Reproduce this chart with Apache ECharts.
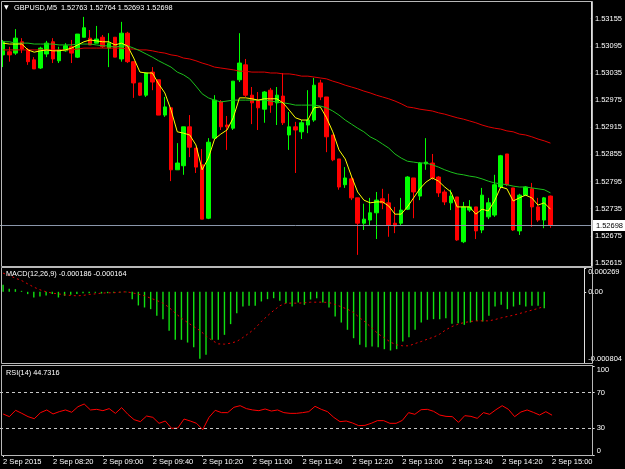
<!DOCTYPE html>
<html>
<head>
<meta charset="utf-8">
<script src="https://cdn.jsdelivr.net/npm/echarts@6/dist/echarts.min.js"></script>
<style>
  html, body { margin: 0; padding: 0; background: #000; }
  #chart { width: 625px; height: 469px; }
</style>
</head>
<body>
<div id="chart"></div>
<script>
// GBPUSD M5, 2 Sep 2015, 07:40 .. 15:00
const times = [
  '07:40', '07:45', '07:50', '07:55',
  '08:00', '08:05', '08:10', '08:15', '08:20', '08:25', '08:30', '08:35', '08:40', '08:45', '08:50', '08:55',
  '09:00', '09:05', '09:10', '09:15', '09:20', '09:25', '09:30', '09:35', '09:40', '09:45', '09:50', '09:55',
  '10:00', '10:05', '10:10', '10:15', '10:20', '10:25', '10:30', '10:35', '10:40', '10:45', '10:50', '10:55',
  '11:00', '11:05', '11:10', '11:15', '11:20', '11:25', '11:30', '11:35', '11:40', '11:45', '11:50', '11:55',
  '12:00', '12:05', '12:10', '12:15', '12:20', '12:25', '12:30', '12:35', '12:40', '12:45', '12:50', '12:55',
  '13:00', '13:05', '13:10', '13:15', '13:20', '13:25', '13:30', '13:35', '13:40', '13:45', '13:50', '13:55',
  '14:00', '14:05', '14:10', '14:15', '14:20', '14:25', '14:30', '14:35', '14:40', '14:45', '14:50', '14:55',
  '15:00'
];
// empty slots on the right side of the chart (shift)
const shiftSlots = ['', '', '', '', '', ''];

const tickLabels = [
  '2 Sep 2015', '2 Sep 08:20', '2 Sep 09:00', '2 Sep 09:40', '2 Sep 10:20', '2 Sep 11:00',
  '2 Sep 11:40', '2 Sep 12:20', '2 Sep 13:00', '2 Sep 13:40', '2 Sep 14:20', '2 Sep 15:00'
];

const priceTicks = [1.52615, 1.52675, 1.52735, 1.52795, 1.52855, 1.52915, 1.52975, 1.53035, 1.53095, 1.53155];
const macdTicks = [-0.000804, 0, 0.000269];
const rsiTicks = [0, 30, 70, 100];

// [open, close, low, high]
const candles = [
  [1.53075, 1.53104, 1.53048, 1.53108], [1.53082, 1.53075, 1.53060, 1.53093], [1.53079, 1.53112, 1.53075, 1.53132],
  [1.53104, 1.53088, 1.53079, 1.53112], [1.53086, 1.53060, 1.53053, 1.53090], [1.53064, 1.53044, 1.53044, 1.53070],
  [1.53046, 1.53090, 1.53044, 1.53093], [1.53077, 1.53101, 1.53070, 1.53106], [1.53104, 1.53066, 1.53057, 1.53112],
  [1.53062, 1.53086, 1.53057, 1.53093], [1.53084, 1.53095, 1.53082, 1.53101], [1.53093, 1.53079, 1.53057, 1.53108],
  [1.53070, 1.53121, 1.53068, 1.53121], [1.53114, 1.53135, 1.53114, 1.53159], [1.53112, 1.53097, 1.53097, 1.53130],
  [1.53101, 1.53110, 1.53101, 1.53139], [1.53114, 1.53093, 1.53090, 1.53119], [1.53090, 1.53101, 1.53048, 1.53123],
  [1.53114, 1.53070, 1.53070, 1.53114], [1.53066, 1.53123, 1.53060, 1.53148], [1.53123, 1.53060, 1.53057, 1.53126],
  [1.53060, 1.53013, 1.52980, 1.53060], [1.53013, 1.52986, 1.52984, 1.53013], [1.52986, 1.53035, 1.52982, 1.53035],
  [1.53037, 1.53015, 1.52997, 1.53048], [1.53020, 1.52942, 1.52942, 1.53020], [1.52942, 1.52960, 1.52938, 1.52982],
  [1.52958, 1.52821, 1.52796, 1.52958], [1.52821, 1.52836, 1.52821, 1.52880], [1.52830, 1.52916, 1.52810, 1.52916],
  [1.52916, 1.52871, 1.52849, 1.52942], [1.52869, 1.52827, 1.52814, 1.52869], [1.52832, 1.52712, 1.52712, 1.52867],
  [1.52714, 1.52882, 1.52712, 1.52891], [1.52891, 1.52975, 1.52887, 1.52986], [1.52971, 1.52916, 1.52909, 1.52975],
  [1.52920, 1.52916, 1.52865, 1.52940], [1.52913, 1.53017, 1.52909, 1.53017], [1.53020, 1.53057, 1.53015, 1.53123],
  [1.53053, 1.52986, 1.52982, 1.53066], [1.52986, 1.52969, 1.52922, 1.53004], [1.52975, 1.52958, 1.52909, 1.52993],
  [1.52955, 1.52993, 1.52925, 1.52995], [1.52997, 1.52964, 1.52947, 1.53002], [1.52969, 1.52986, 1.52920, 1.53004],
  [1.52984, 1.52925, 1.52920, 1.53035], [1.52898, 1.52916, 1.52865, 1.52949], [1.52916, 1.52909, 1.52814, 1.52927],
  [1.52905, 1.52925, 1.52889, 1.52931], [1.52920, 1.52931, 1.52902, 1.52997], [1.52931, 1.53008, 1.52927, 1.53024],
  [1.53013, 1.52982, 1.52975, 1.53020], [1.52982, 1.52894, 1.52860, 1.52982], [1.52898, 1.52843, 1.52840, 1.52898],
  [1.52845, 1.52783, 1.52777, 1.52845], [1.52788, 1.52803, 1.52781, 1.52827], [1.52801, 1.52759, 1.52754, 1.52807],
  [1.52759, 1.52703, 1.52633, 1.52759], [1.52703, 1.52712, 1.52688, 1.52746], [1.52710, 1.52726, 1.52699, 1.52759],
  [1.52726, 1.52754, 1.52668, 1.52772], [1.52757, 1.52748, 1.52734, 1.52779], [1.52748, 1.52699, 1.52673, 1.52768],
  [1.52703, 1.52697, 1.52681, 1.52739], [1.52703, 1.52732, 1.52697, 1.52759], [1.52734, 1.52805, 1.52732, 1.52807],
  [1.52803, 1.52772, 1.52714, 1.52803], [1.52763, 1.52836, 1.52754, 1.52838], [1.52834, 1.52838, 1.52821, 1.52891],
  [1.52836, 1.52803, 1.52799, 1.52856], [1.52805, 1.52770, 1.52761, 1.52807], [1.52772, 1.52750, 1.52743, 1.52777],
  [1.52748, 1.52763, 1.52732, 1.52777], [1.52761, 1.52666, 1.52664, 1.52761], [1.52662, 1.52739, 1.52659, 1.52750],
  [1.52732, 1.52739, 1.52728, 1.52754], [1.52739, 1.52686, 1.52668, 1.52739], [1.52688, 1.52765, 1.52681, 1.52781],
  [1.52717, 1.52748, 1.52712, 1.52759], [1.52721, 1.52788, 1.52717, 1.52810], [1.52783, 1.52852, 1.52781, 1.52854],
  [1.52856, 1.52788, 1.52785, 1.52856], [1.52781, 1.52688, 1.52686, 1.52781], [1.52686, 1.52765, 1.52677, 1.52768],
  [1.52765, 1.52783, 1.52763, 1.52785], [1.52779, 1.52739, 1.52695, 1.52792], [1.52739, 1.52710, 1.52706, 1.52759],
  [1.52710, 1.52759, 1.52692, 1.52761], [1.52763, 1.52698, 1.52693, 1.52764]
];

// moving averages
const maFast = [
  1.53101, 1.53099, 1.53099, 1.53099, 1.53086, 1.53081, 1.53084, 1.53086, 1.53084, 1.53084,
  1.53086, 1.53090, 1.53097, 1.53104, 1.53108, 1.53106, 1.53104, 1.53104, 1.53097, 1.53101,
  1.53095, 1.53068, 1.53037, 1.53035, 1.53035, 1.53011, 1.52991, 1.52953, 1.52905, 1.52902,
  1.52898, 1.52876, 1.52821, 1.52847, 1.52889, 1.52900, 1.52909, 1.52936, 1.52980, 1.52980,
  1.52978, 1.52975, 1.52978, 1.52978, 1.52978, 1.52969, 1.52953, 1.52936, 1.52931, 1.52931,
  1.52958, 1.52960, 1.52936, 1.52905, 1.52865, 1.52845, 1.52807, 1.52772, 1.52754, 1.52748,
  1.52750, 1.52750, 1.52741, 1.52723, 1.52723, 1.52739, 1.52759, 1.52779, 1.52794, 1.52803,
  1.52796, 1.52783, 1.52772, 1.52739, 1.52739, 1.52739, 1.52723, 1.52734, 1.52730, 1.52752,
  1.52783, 1.52779, 1.52752, 1.52759, 1.52765, 1.52759, 1.52743, 1.52748, 1.52734
];
const maMid = [
  1.53104, 1.53104, 1.53101, 1.53101, 1.53101, 1.53099, 1.53099, 1.53099, 1.53099, 1.53097,
  1.53097, 1.53097, 1.53099, 1.53099, 1.53099, 1.53097, 1.53095, 1.53095, 1.53092, 1.53095,
  1.53095, 1.53090, 1.53084, 1.53077, 1.53070, 1.53062, 1.53055, 1.53048, 1.53037, 1.53031,
  1.53022, 1.53006, 1.52989, 1.52980, 1.52975, 1.52971, 1.52973, 1.52975, 1.52975, 1.52975,
  1.52975, 1.52975, 1.52975, 1.52973, 1.52971, 1.52969, 1.52967, 1.52964, 1.52964, 1.52964,
  1.52964, 1.52962, 1.52958, 1.52951, 1.52942, 1.52931, 1.52922, 1.52913, 1.52905, 1.52894,
  1.52887, 1.52878, 1.52869, 1.52856, 1.52847, 1.52840, 1.52838, 1.52836, 1.52836, 1.52832,
  1.52827, 1.52821, 1.52816, 1.52812, 1.52810, 1.52807, 1.52805, 1.52801, 1.52796, 1.52792,
  1.52790, 1.52788, 1.52785, 1.52783, 1.52783, 1.52781, 1.52779, 1.52777, 1.52770
];
const maSlow = [
  1.53086, 1.53086, 1.53086, 1.53086, 1.53086, 1.53086, 1.53086, 1.53086, 1.53086, 1.53086,
  1.53086, 1.53086, 1.53088, 1.53090, 1.53090, 1.53090, 1.53090, 1.53090, 1.53090, 1.53090,
  1.53088, 1.53088, 1.53086, 1.53086, 1.53084, 1.53081, 1.53079, 1.53075, 1.53073, 1.53068,
  1.53066, 1.53062, 1.53057, 1.53053, 1.53048, 1.53046, 1.53044, 1.53042, 1.53039, 1.53039,
  1.53037, 1.53037, 1.53037, 1.53035, 1.53035, 1.53033, 1.53033, 1.53031, 1.53028, 1.53028,
  1.53026, 1.53024, 1.53022, 1.53017, 1.53013, 1.53008, 1.53004, 1.53000, 1.52995, 1.52991,
  1.52986, 1.52982, 1.52978, 1.52973, 1.52967, 1.52960, 1.52958, 1.52955, 1.52953, 1.52951,
  1.52947, 1.52944, 1.52940, 1.52936, 1.52933, 1.52929, 1.52925, 1.52920, 1.52916, 1.52913,
  1.52911, 1.52907, 1.52905, 1.52900, 1.52898, 1.52894, 1.52889, 1.52885, 1.52880
];

// MACD(12,26,9): main as histogram, signal as dotted line
const macdMain = [
  0.000079, 0.000034, 0.000030, 0.000011, -0.000026, -0.000064, -0.000053, -0.000041, -0.000026, -0.000064,
  -0.000045, -0.000034, -0.000026, -0.000015, -0.000015, -0.000011, -0.000019, -0.000015, -0.000011, -0.000008,
  -0.000004, -0.000083, -0.000154, -0.000177, -0.000196, -0.000271, -0.000309, -0.000441, -0.000542, -0.000542,
  -0.000573, -0.000625, -0.000757, -0.000712, -0.000542, -0.000542, -0.000486, -0.000365, -0.000241, -0.000166,
  -0.000158, -0.000158, -0.000109, -0.000083, -0.000072, -0.000102, -0.000128, -0.000166, -0.000121, -0.000147,
  -0.000087, -0.000072, -0.000121, -0.000177, -0.000279, -0.000347, -0.000429, -0.000524, -0.000599, -0.000625,
  -0.000618, -0.000625, -0.000648, -0.000663, -0.000648, -0.000561, -0.000512, -0.000429, -0.000347, -0.000316,
  -0.000309, -0.000309, -0.000298, -0.000362, -0.000354, -0.000373, -0.000347, -0.000328, -0.000335, -0.000271,
  -0.000166, -0.000147, -0.000196, -0.000166, -0.000147, -0.000166, -0.000158, -0.000158, -0.000186
];
const macdSignal = [
  0.000211, 0.000185, 0.000154, 0.000128, 0.000090, 0.000053, 0.000023, 0.000000, -0.000015, -0.000023,
  -0.000034, -0.000041, -0.000045, -0.000041, -0.000030, -0.000023, -0.000015, -0.000011, -0.000011, -0.000004,
  0.000000, -0.000011, -0.000026, -0.000045, -0.000072, -0.000098, -0.000128, -0.000177, -0.000241, -0.000298,
  -0.000347, -0.000392, -0.000437, -0.000497, -0.000550, -0.000588, -0.000591, -0.000580, -0.000561, -0.000516,
  -0.000467, -0.000411, -0.000335, -0.000271, -0.000211, -0.000158, -0.000128, -0.000128, -0.000128, -0.000124,
  -0.000117, -0.000117, -0.000117, -0.000121, -0.000143, -0.000170, -0.000196, -0.000234, -0.000294, -0.000347,
  -0.000411, -0.000475, -0.000520, -0.000569, -0.000599, -0.000610, -0.000610, -0.000584, -0.000561, -0.000535,
  -0.000512, -0.000478, -0.000429, -0.000392, -0.000365, -0.000347, -0.000335, -0.000328, -0.000328, -0.000328,
  -0.000313, -0.000294, -0.000279, -0.000264, -0.000245, -0.000226, -0.000207, -0.000188, -0.000164
];

// RSI(14)
const rsi = [
  46.1, 43.1, 50.2, 46.8, 43.1, 40.8, 47.6, 50.6, 46.1, 48.7,
  50.6, 48.0, 54.3, 57.3, 50.6, 51.3, 49.8, 52.1, 46.8, 53.2,
  45.7, 39.7, 37.5, 43.8, 42.3, 35.6, 38.2, 30.0, 30.3, 40.4,
  38.2, 35.6, 28.5, 42.3, 50.2, 47.6, 47.6, 53.6, 55.4, 52.1,
  50.6, 49.8, 51.7, 49.4, 50.6, 47.6, 46.8, 46.8, 47.6, 48.7,
  54.7, 51.3, 48.7, 42.3, 37.5, 38.2, 36.0, 33.0, 33.3, 35.6,
  38.6, 38.6, 35.6, 35.6, 38.9, 47.6, 45.7, 50.9, 51.3, 49.1,
  44.9, 43.4, 43.1, 36.7, 44.2, 43.4, 41.2, 47.6, 45.7, 50.9,
  55.4, 51.3, 43.1, 48.3, 50.6, 47.9, 44.9, 48.7, 44.7316
];

const categories = times.concat(shiftSlots);
const last = candles[candles.length - 1];
const lastClose = last[1];

const font = 'Liberation Sans';
const textColor = '#ffffff';
const frameColor = '#b8b8b8';

const chart = echarts.init(document.getElementById('chart'));

const titleStyle = { color: textColor, fontSize: 7.3, fontWeight: 'normal', fontFamily: font };

const rightAxis = (gridIndex, min, max, ticks, formatter, alignEnds) => ({
  type: 'value',
  gridIndex: gridIndex,
  position: 'right',
  min: min,
  max: max,
  axisLine: { show: true, lineStyle: { color: '#e0e0e0', width: 1 } },
  axisTick: { show: true, length: 2, customValues: ticks, lineStyle: { color: '#e0e0e0' } },
  axisLabel: Object.assign({
    color: textColor,
    fontSize: 7.5,
    fontFamily: font,
    margin: 4,
    customValues: ticks,
    formatter: formatter,
  }, alignEnds ? { verticalAlignMinLabel: 'bottom', verticalAlignMaxLabel: 'top' } : {}),
  splitLine: { show: false },
});

const hiddenX = (gridIndex) => ({
  type: 'category',
  gridIndex: gridIndex,
  data: categories,
  boundaryGap: true,
  show: false,
});

const option = {
  backgroundColor: '#000000',
  animation: false,
  title: [
    { text: '▼', left: 4, top: 4, padding: 0,
      textStyle: { color: textColor, fontSize: 6, fontWeight: 'normal', fontFamily: 'DejaVu Sans' } },
    { text: 'GBPUSD,M5  ' + [last[0], last[3], last[2], last[1]].map((v) => v.toFixed(5)).join(' '),
      left: 14, top: 4, padding: 0, textStyle: titleStyle },
    { text: 'MACD(12,26,9) ' + macdMain[macdMain.length - 1].toFixed(6) + ' ' + macdSignal[macdSignal.length - 1].toFixed(6),
      left: 6, top: 270, padding: 0, textStyle: titleStyle },
    { text: 'RSI(14) ' + rsi[rsi.length - 1].toFixed(4),
      left: 6, top: 369, padding: 0, textStyle: titleStyle },
  ],
  grid: [
    { left: -1.125, width: 593.75, top: 2, height: 264 },
    { left: -1.125, width: 593.75, top: 268, height: 95 },
    { left: -1.125, width: 593.75, top: 366, height: 89 },
  ],
  xAxis: [
    hiddenX(0),
    hiddenX(1),
    {
      type: 'category',
      gridIndex: 2,
      data: categories,
      boundaryGap: true,
      axisLine: { show: false },
      axisTick: { show: true, interval: 7, alignWithLabel: true, length: 2, lineStyle: { color: '#e0e0e0' } },
      axisLabel: {
        interval: 7,
        align: 'left',
        margin: 3,
        color: textColor,
        fontSize: 7.5,
        fontFamily: font,
        formatter: (value, index) => (index % 8 === 0 && tickLabels[index / 8]) ? tickLabels[index / 8] : '',
      },
    },
  ],
  yAxis: [
    rightAxis(0, 1.526084, 1.531919, priceTicks, (v) => v.toFixed(5), false),
    rightAxis(1, -0.000804, 0.000269, macdTicks, (v) => (v === 0 ? '0.00' : v.toFixed(6)), true),
    rightAxis(2, 0, 100, rsiTicks, (v) => String(v), true),
  ],
  series: [
    {
      type: 'candlestick',
      xAxisIndex: 0,
      yAxisIndex: 0,
      data: candles,
      barWidth: 4,
      itemStyle: {
        color: '#00ff00',
        color0: '#ff0000',
        borderColor: '#00ff00',
        borderColor0: '#ff0000',
        borderWidth: 1,
      },
    },
    {
      type: 'line', xAxisIndex: 0, yAxisIndex: 0, data: maSlow, symbol: 'none',
      lineStyle: { color: '#e00000', width: 1 },
      // current bid line with its price tag on the axis
      markLine: {
        silent: true,
        precision: 5,
        symbol: ['none', 'none'],
        lineStyle: { color: '#8a96aa', width: 1, type: 'solid' },
        label: {
          show: true,
          position: 'end',
          distance: 1,
          formatter: lastClose.toFixed(5),
          color: '#000',
          backgroundColor: '#ffffff',
          padding: [2, 4, 1, 4],
          fontSize: 7.5,
          fontFamily: font,
        },
        data: [{ yAxis: lastClose }],
      },
    },
    {
      type: 'line', xAxisIndex: 0, yAxisIndex: 0, data: maMid, symbol: 'none',
      lineStyle: { color: '#1cc01c', width: 1 },
    },
    {
      type: 'line', xAxisIndex: 0, yAxisIndex: 0, data: maFast, symbol: 'none',
      lineStyle: { color: '#ffff00', width: 1 },
    },
    {
      type: 'bar', xAxisIndex: 1, yAxisIndex: 1, data: macdMain, barWidth: 1.4,
      itemStyle: { color: '#10e010' },
    },
    {
      type: 'line', xAxisIndex: 1, yAxisIndex: 1, data: macdSignal, symbol: 'none',
      lineStyle: { color: '#e00000', width: 1, type: [2, 3] },
    },
    {
      type: 'line', xAxisIndex: 2, yAxisIndex: 2, data: rsi, symbol: 'none',
      lineStyle: { color: '#ff0000', width: 1 },
      markLine: {
        silent: true,
        symbol: ['none', 'none'],
        label: { show: false },
        lineStyle: { color: '#c8c8c8', width: 1, type: [3, 3] },
        data: [{ yAxis: 70 }, { yAxis: 30 }],
      },
    },
  ],
  graphic: [
    { type: 'rect', z: 100, silent: true, shape: { x: 1.5, y: 1.5, width: 591, height: 265 },
      style: { fill: null, stroke: frameColor, lineWidth: 1 } },
    { type: 'rect', z: 100, silent: true, shape: { x: 1.5, y: 267.5, width: 591, height: 96 },
      style: { fill: null, stroke: frameColor, lineWidth: 1 } },
    { type: 'rect', z: 100, silent: true, shape: { x: 1.5, y: 365.5, width: 591, height: 90 },
      style: { fill: null, stroke: frameColor, lineWidth: 1 } },
  ],
};

chart.setOption(option);
</script>
</body>
</html>
